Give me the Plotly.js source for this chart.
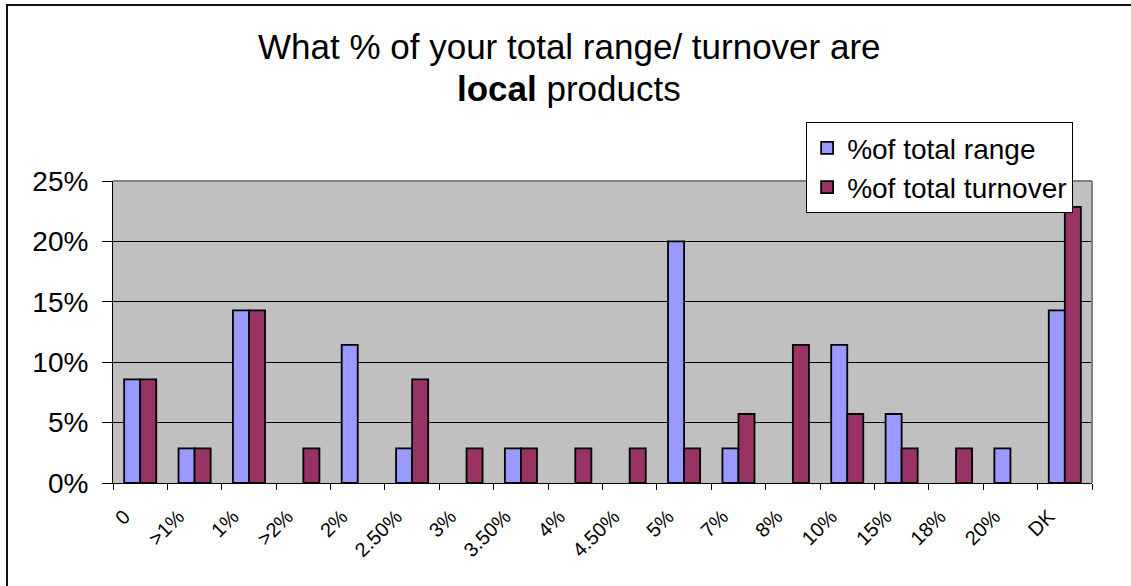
<!DOCTYPE html>
<html>
<head>
<meta charset="utf-8">
<script src="https://cdn.plot.ly/plotly-3.0.1.min.js"></script>
<style>
  html, body { margin: 0; padding: 0; background: #ffffff; }
  #wrap { position: relative; width: 1131px; height: 586px; overflow: hidden; }
  #chart { position: absolute; left: 0; top: 0; width: 1131px; height: 586px; }
  #frame { position: absolute; left: 6px; top: 4px; width: 1200px; height: 700px;
           border-left: 2px solid #111; border-top: 2px solid #111; pointer-events: none; }
</style>
</head>
<body>
<div id="wrap">
  <div id="chart"></div>
  <div id="frame"></div>
</div>
<script>
// Share of local products, in percent of respondents
const categories = ['0', '>1%', '1%', '>2%', '2%', '2.50%', '3%', '3.50%', '4%',
                    '4.50%', '5%', '7%', '8%', '10%', '15%', '18%', '20%', 'DK'];
const totalRange    = [8.57, 2.86, 14.29, 0, 11.43, 2.86, 0, 2.86, 0,
                       0, 20, 2.86, 0, 11.43, 5.71, 0, 2.86, 14.29];
const totalTurnover = [8.57, 2.86, 14.29, 2.86, 0, 8.57, 2.86, 2.86, 2.86,
                       2.86, 2.86, 5.71, 11.43, 5.71, 2.86, 2.86, 0, 22.86];
const yTicks = [0, 5, 10, 15, 20, 25];
const titleLines = ['What % of your total range/ turnover are', '<b>local</b> products'];

const FONT = 'Liberation Sans, Arial, sans-serif';

// empty answers are left out so no outline is stroked along the baseline
const noZero = arr => arr.map(v => (v === 0 ? null : v));

const traces = [
  {
    type: 'bar', name: '%of total range', x: categories, y: noZero(totalRange),
    marker: { color: '#9999FF', line: { color: '#000000', width: 1.8 } },
    hoverinfo: 'x+y'
  },
  {
    type: 'bar', name: '%of total turnover', x: categories, y: noZero(totalTurnover),
    marker: { color: '#993366', line: { color: '#000000', width: 1.8 } },
    hoverinfo: 'x+y'
  }
];

const layout = {
  width: 1131, height: 586,
  margin: { l: 113, r: 39, t: 181, b: 103 },
  paper_bgcolor: 'rgba(0,0,0,0)',
  plot_bgcolor: '#C0C0C0',
  font: { family: FONT, color: '#000000' },
  barmode: 'group',
  bargap: 0.41,
  bargroupgap: 0,
  xaxis: {
    type: 'category',
    tickangle: -45,
    tickfont: { family: FONT, size: 20 },
    ticks: 'outside', ticklen: 6, tickcolor: '#000000', tickwidth: 1,
    tickson: 'boundaries',
    ticklabelshift: -16,
    ticklabelstandoff: 13,
    showline: true, linecolor: '#000000', linewidth: 1,
    showgrid: false, zeroline: false,
    fixedrange: true
  },
  yaxis: {
    range: [0, 25],
    tickvals: yTicks,
    ticktext: yTicks.map(v => v + '%'),
    tickfont: { family: FONT, size: 28 },
    ticks: 'outside', ticklen: 10, tickcolor: '#000000', tickwidth: 1,
    ticklabelstandoff: 8,
    showline: true, linecolor: '#000000', linewidth: 1,
    showgrid: true, gridcolor: '#000000', gridwidth: 1,
    zeroline: false,
    fixedrange: true
  },
  showlegend: true,
  legend: {
    x: 0.708, xanchor: 'left',
    y: 1.195, yanchor: 'top',
    bgcolor: '#ffffff',
    bordercolor: '#000000', borderwidth: 1,
    font: { family: FONT, size: 28, color: '#000000' }
  },
  annotations: [
    { text: titleLines[0], xref: 'paper', yref: 'paper', x: 0.466, y: 1.447,
      xanchor: 'center', yanchor: 'middle', showarrow: false,
      font: { family: FONT, size: 35, color: '#000000' } },
    { text: titleLines[1], xref: 'paper', yref: 'paper', x: 0.466, y: 1.305,
      xanchor: 'center', yanchor: 'middle', showarrow: false,
      font: { family: FONT, size: 35, color: '#000000' } }
  ],
  shapes: [
    // gray frame edges on the top and right of the plot area
    { type: 'line', xref: 'paper', yref: 'paper', x0: 0, x1: 1, y0: 1, y1: 1,
      line: { color: '#808080', width: 2 } },
    { type: 'line', xref: 'paper', yref: 'paper', x0: 1, x1: 1, y0: 0, y1: 1,
      line: { color: '#808080', width: 2 } }
  ]
};

Plotly.newPlot('chart', traces, layout, { staticPlot: true, displayModeBar: false });
</script>
</body>
</html>
